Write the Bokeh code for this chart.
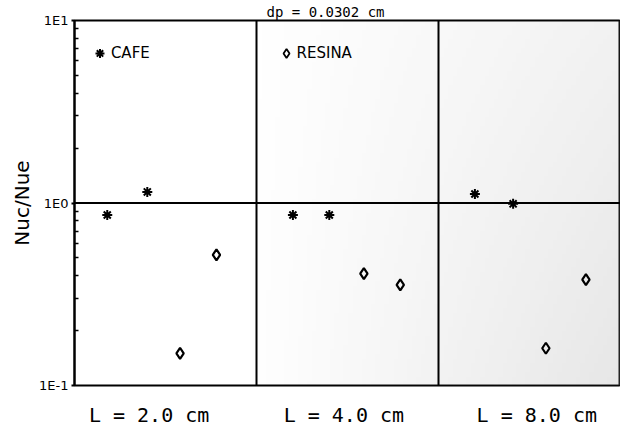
import numpy as np
from bokeh.plotting import figure
from bokeh.models import FixedTicker, Label, Span, Range1d, LogAxis
from bokeh.embed import file_html
from bokeh.resources import INLINE

# Panel positions: each length L occupies one unit of width on the x scale
panel_labels = ["L = 2.0 cm", "L = 4.0 cm", "L = 8.0 cm"]
label_pos = [0.41, 1.48, 2.54]

# CAFE (asterisks)
cafe_x = [0.18, 0.40, 1.20, 1.40, 2.20, 2.41]
cafe_y = [0.86, 1.15, 0.86, 0.86, 1.12, 0.99]

# RESINA (open diamonds)
resina_x = [0.58, 0.78, 1.59, 1.79, 2.59, 2.81]
resina_y = [0.15, 0.52, 0.41, 0.356, 0.16, 0.38]

y_ticks = [0.1, 1.0, 10.0]
y_tick_labels = {0.1: "1E-1", 1.0: "1E0", 10.0: "1E1"}
y_minor = [m * 10.0 ** e for e in (-1, 0) for m in range(2, 10)]

FONT = "DejaVu Sans"
MONO = "DejaVu Sans Mono"

p = figure(width=620, height=429, output_backend="svg", toolbar_location=None,
           y_axis_type="log", x_range=Range1d(0, 3), y_range=Range1d(0.1, 10),
           min_border_left=74, min_border_right=0, min_border_top=0,
           min_border_bottom=44, y_axis_location=None)
p.grid.visible = False
p.outline_line_color = "black"
p.outline_line_width = 2
p.background_fill_color = "white"
p.border_fill_color = "white"

# title above the frame, nudged toward the middle panel
p.title.text = "dp = 0.0302 cm"
p.title.text_font = MONO
p.title.text_font_size = "14px"
p.title.text_font_style = "normal"
p.title.text_color = "black"
p.title.align = "left"
p.title.offset = 192
p.title.standoff = 2

# faint grey shading that deepens toward the lower right of the frame
gx = np.linspace(0, 1, 120)
gy = np.linspace(0, 1, 80)
GX, GY = np.meshgrid(gx, gy)
shade = np.clip((GX - 0.3) / 0.7, 0, 1) * (0.55 + 0.45 * (1 - GY))
alpha = (shade * 60).astype(np.uint32)
grey = np.uint32(150)
img = (alpha << 24) | (grey << 16) | (grey << 8) | grey
p.image_rgba(image=[img], x=0, y=0.1, dw=3, dh=9.9)

# y axis
ya = LogAxis(ticker=FixedTicker(ticks=y_ticks, minor_ticks=y_minor))
ya.major_label_overrides = y_tick_labels
ya.major_label_text_font = FONT
ya.major_label_text_font_size = "13px"
ya.major_label_text_color = "black"
ya.major_tick_in = 0
ya.major_tick_out = 3
ya.major_tick_line_width = 2
ya.minor_tick_in = 4
ya.minor_tick_out = 0
ya.minor_tick_line_width = 1.5
ya.axis_line_color = "black"
ya.axis_line_width = 2
ya.axis_label = "Nuc/Nue"
ya.axis_label_text_font = FONT
ya.axis_label_text_font_size = "20px"
ya.axis_label_text_font_style = "normal"
ya.axis_label_text_color = "black"
ya.axis_label_standoff = 2
ya.major_label_standoff = 3
p.add_layout(ya, "left")

# x axis carries the panel names
xa = p.xaxis[0]
xa.ticker = FixedTicker(ticks=label_pos)
xa.major_label_overrides = {v: t for v, t in zip(label_pos, panel_labels)}
xa.major_label_text_font = MONO
xa.major_label_text_font_size = "20px"
xa.major_label_text_color = "black"
xa.major_tick_line_color = None
xa.minor_tick_line_color = None
xa.axis_line_color = None
xa.major_label_standoff = 11

# panel separators and unit reference line
for xv in (1, 2):
    p.add_layout(Span(location=xv, dimension="height", line_color="black", line_width=2))
p.add_layout(Span(location=1.0, dimension="width", line_color="black", line_width=2))

p.scatter(cafe_x, cafe_y, marker="asterisk", size=10, line_color="black", line_width=2)
p.scatter(resina_x, resina_y, marker="diamond", size=11, fill_color=None,
          line_color="black", line_width=2.2)

# legend entries inside the first two panels
p.scatter([0.14], [6.6], marker="asterisk", size=9, line_color="black", line_width=2)
p.add_layout(Label(x=0.20, y=6.6, text="CAFE", text_font=FONT, text_font_size="15px",
                   text_baseline="middle", text_color="black"))
p.scatter([1.165], [6.6], marker="diamond", size=9, fill_color=None,
          line_color="black", line_width=1.8)
p.add_layout(Label(x=1.22, y=6.6, text="RESINA", text_font=FONT, text_font_size="15px",
                   text_baseline="middle", text_color="black"))

open("out.html", "w").write(file_html(p, INLINE))
